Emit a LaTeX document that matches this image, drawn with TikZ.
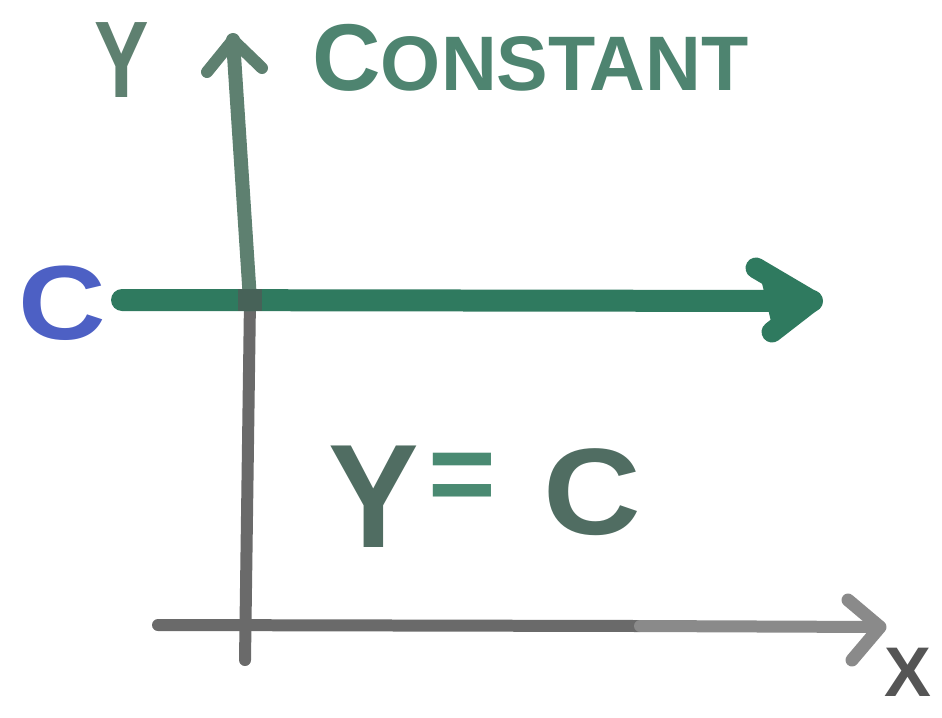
\documentclass[tikz,border=0pt]{standalone}
\usepackage{fontspec}
\setmainfont{Liberation Sans}
\definecolor{ygreen}{HTML}{5E8070}
\definecolor{cgreen}{HTML}{4E8470}
\definecolor{hgreen}{HTML}{2F7A5F}
\definecolor{axgray}{HTML}{6A6A6A}
\definecolor{lgray}{HTML}{8A8A8A}
\definecolor{dgray}{HTML}{555555}
\definecolor{cblue}{HTML}{4D60C4}
\definecolor{eqgreen}{HTML}{4A8A72}
\tikzset{
  pen/.style={line cap=round, line join=round},
  lbl/.style={inner sep=0pt, font=\bfseries},
}
\begin{document}
\begin{tikzpicture}[x=0.02cm, y=-0.02cm]
\useasboundingbox (0,0) rectangle (942,717);
% coordinates
\coordinate (ytop) at (233,40);
\coordinate (orig) at (250,300);
\coordinate (ybot) at (245,660);
\coordinate (hl) at (122,300);
\coordinate (hr) at (812,301);
\coordinate (xl) at (158,625);
\coordinate (xr) at (880,627);
% lower gray y-axis
\draw[pen, axgray, line width=0.24cm] (orig) -- (ybot);
% x-axis
\draw[pen, axgray, line width=0.24cm] (xl) -- (640,626);
\draw[pen, lgray, line width=0.24cm] (640,626) -- (xr);
\draw[pen, lgray, line width=0.26cm] (848,600) -- (xr) -- (852,660);
% upper green y-axis
\draw[pen, ygreen, line width=0.28cm] (orig) -- (ytop);
\draw[pen, ygreen, line width=0.24cm] (207,72) -- (ytop) -- (262,68);
% horizontal constant line
\draw[pen, hgreen, line width=0.44cm] (hl) -- (hr);
\draw[pen, hgreen, line width=0.42cm] (756,268) -- (hr) -- (772,332);
\fill[hgreen] (760,275) -- (812,301) -- (772,326) -- (766,300) -- cycle;
% dark crossing
\fill[dgray!80!hgreen, opacity=0.8] (238,289) rectangle (262,311);
% labels
\node[lbl, text=ygreen, font=\bfseries\fontsize{62}{62}\selectfont, xscale=0.75] (ylab) at (122,60) {Y};
\node[lbl, text=cgreen, anchor=base west] (const) at (312,90)
  {\fontsize{54}{54}\selectfont C\fontsize{44}{44}\selectfont ONSTANT};
\node[lbl, text=cblue, font=\bfseries\fontsize{60}{60}\selectfont, xscale=1.15] (clab) at (62,303) {C};
% equation
\node[lbl, text=eqgreen!45!dgray, font=\bfseries\fontsize{84}{84}\selectfont, xscale=0.92] (eqy) at (374,497) {Y};
\node[lbl, text=eqgreen, font=\bfseries\fontsize{66}{66}\selectfont] (eqe) at (462,483) {=};
\node[lbl, text=eqgreen!45!dgray, font=\bfseries\fontsize{70}{70}\selectfont, xscale=1.1] (eqc) at (592,492) {C};
\node[lbl, text=dgray, font=\bfseries\fontsize{40}{40}\selectfont] (xlab) at (908,672) {X};
\end{tikzpicture}
\end{document}
